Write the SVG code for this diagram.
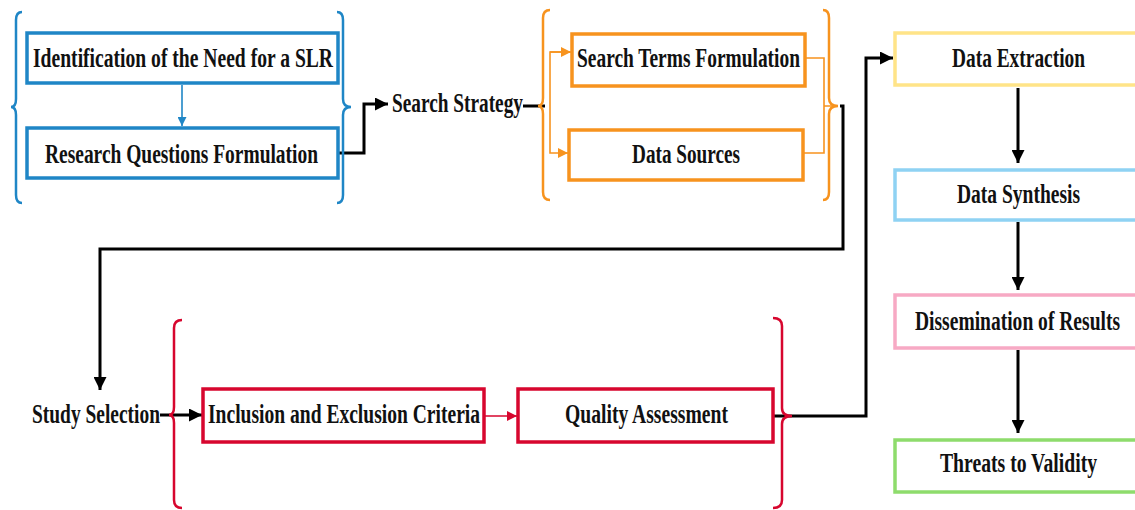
<svg xmlns="http://www.w3.org/2000/svg" width="1135" height="510" viewBox="0 0 1135 510">
<style>
text{font-family:"Liberation Serif","Times New Roman",serif;font-weight:bold;font-size:27px;fill:#111}
.box{fill:#fff;stroke-width:3.5}
.blue{stroke:#1f86c6}
.orange{stroke:#f7931e}
.red{stroke:#d7062e}
.brace{fill:none;stroke-width:2.5}
.blk{fill:none;stroke:#000;stroke-width:3}
.thin{fill:none;stroke-width:1.6}
</style>
<defs>
<marker id="ab" viewBox="0 0 10 10" refX="10" refY="5" markerWidth="17" markerHeight="13" markerUnits="userSpaceOnUse" orient="auto"><path d="M0,0L10,5L0,10z" fill="#000"/></marker>
<marker id="ablue" viewBox="0 0 10 10" refX="10" refY="5" markerWidth="12" markerHeight="9" markerUnits="userSpaceOnUse" orient="auto"><path d="M0,0L10,5L0,10z" fill="#1f86c6"/></marker>
<marker id="aor" viewBox="0 0 10 10" refX="10" refY="5" markerWidth="14" markerHeight="10" markerUnits="userSpaceOnUse" orient="auto"><path d="M0,0L10,5L0,10z" fill="#f7931e"/></marker>
<marker id="ared" viewBox="0 0 10 10" refX="10" refY="5" markerWidth="14" markerHeight="10" markerUnits="userSpaceOnUse" orient="auto"><path d="M0,0L10,5L0,10z" fill="#d7062e"/></marker>
</defs>

<g id="connectors">
<path class="thin" stroke="#1f86c6" d="M182,85V126" marker-end="url(#ablue)"/>
<path class="blk" d="M338,153H364V104H388" marker-end="url(#ab)"/>
<path class="blk" stroke-width="2" d="M523,106H545"/>
<path class="thin" stroke="#f7931e" d="M570,52H550V153H568" marker-end="url(#aor)"/>
<path class="thin" stroke="#f7931e" d="M550,52H571" marker-end="url(#aor)"/>
<path class="thin" stroke="#f7931e" d="M805,58H824V153H803M824,106H838"/>
<path class="blk" d="M840,106H843V249H100V390" marker-end="url(#ab)"/>
<path class="blk" d="M160,415H202" marker-end="url(#ab)"/>
<path class="thin" stroke="#d7062e" d="M484,416H517" marker-end="url(#ared)"/>
<path class="blk" d="M773,416H866V58H893" marker-end="url(#ab)"/>
<path class="blk" d="M1018,88V163" marker-end="url(#ab)"/>
<path class="blk" d="M1018,222V290" marker-end="url(#ab)"/>
<path class="blk" d="M1018,350V433" marker-end="url(#ab)"/>
</g>

<g id="brace-blue">
<path class="brace blue" d="M22,12Q16,12 16,20L16,99Q16,107 11,107Q16,107 16,115L16,195Q16,203 22,203"/>
<path class="brace blue" d="M337,12Q343,12 343,20L343,99Q343,107 351,107Q343,107 343,115L343,195Q343,203 337,203"/>
</g>
<g id="brace-orange">
<path class="brace orange" d="M550,10Q543,10 543,18L543,98Q543,106 538,106Q543,106 543,114L543,192Q543,200 550,200"/>
<path class="brace orange" d="M823,10Q829,10 829,18L829,98Q829,106 838,106Q829,106 829,114L829,192Q829,200 823,200"/>
</g>
<g id="brace-red">
<path class="brace red" d="M182,320Q174,320 174,328L174,407Q174,415 169,415Q174,415 174,423L174,500Q174,508 182,508"/>
<path class="brace red" d="M773,318Q782,318 782,326L782,408Q782,416 792,416Q782,416 782,424L782,500Q782,508 773,508"/>
</g>

<g id="need"><rect class="box blue" x="27" y="33" width="311" height="50"/><text x="33" y="67" textLength="300" lengthAdjust="spacingAndGlyphs">Identification of the Need for a SLR</text></g>
<g id="rq"><rect class="box blue" x="27" y="128" width="311" height="50"/><text x="45" y="163" textLength="273" lengthAdjust="spacingAndGlyphs">Research Questions Formulation</text></g>
<g id="search-strategy"><text x="392" y="112" textLength="131" lengthAdjust="spacingAndGlyphs">Search Strategy</text></g>
<g id="search-terms"><rect class="box orange" x="572" y="34" width="233" height="52"/><text x="577" y="67" textLength="223" lengthAdjust="spacingAndGlyphs">Search Terms Formulation</text></g>
<g id="data-sources"><rect class="box orange" x="569" y="130" width="234" height="50"/><text x="632" y="163" textLength="108" lengthAdjust="spacingAndGlyphs">Data Sources</text></g>
<g id="study-selection"><text x="32" y="423" textLength="128" lengthAdjust="spacingAndGlyphs">Study Selection</text></g>
<g id="criteria"><rect class="box red" x="203" y="389" width="281" height="53"/><text x="208" y="423" textLength="272" lengthAdjust="spacingAndGlyphs">Inclusion and Exclusion Criteria</text></g>
<g id="quality"><rect class="box red" x="518" y="389" width="255" height="53"/><text x="565" y="423" textLength="163" lengthAdjust="spacingAndGlyphs">Quality Assessment</text></g>
<g id="extraction"><rect class="box" stroke="#ffe488" stroke-width="4" x="895" y="33" width="246" height="52"/><text x="952" y="67" textLength="133" lengthAdjust="spacingAndGlyphs">Data Extraction</text></g>
<g id="synthesis"><rect class="box" stroke="#8fd2f3" stroke-width="4" x="895" y="170" width="246" height="50"/><text x="957" y="203" textLength="123" lengthAdjust="spacingAndGlyphs">Data Synthesis</text></g>
<g id="dissemination"><rect class="box" stroke="#f7a9c4" stroke-width="4" x="895" y="295" width="246" height="53"/><text transform="matrix(0.727,0,0,1,915,330)" x="0" y="0" textLength="282" lengthAdjust="spacingAndGlyphs">Dissemination of Results</text></g>
<g id="threats"><rect class="box" stroke="#8edc6c" stroke-width="4" x="895" y="440" width="246" height="52"/><text transform="matrix(0.734,0,0,1,940,472)" x="0" y="0" textLength="214" lengthAdjust="spacingAndGlyphs">Threats to Validity</text></g>
</svg>
